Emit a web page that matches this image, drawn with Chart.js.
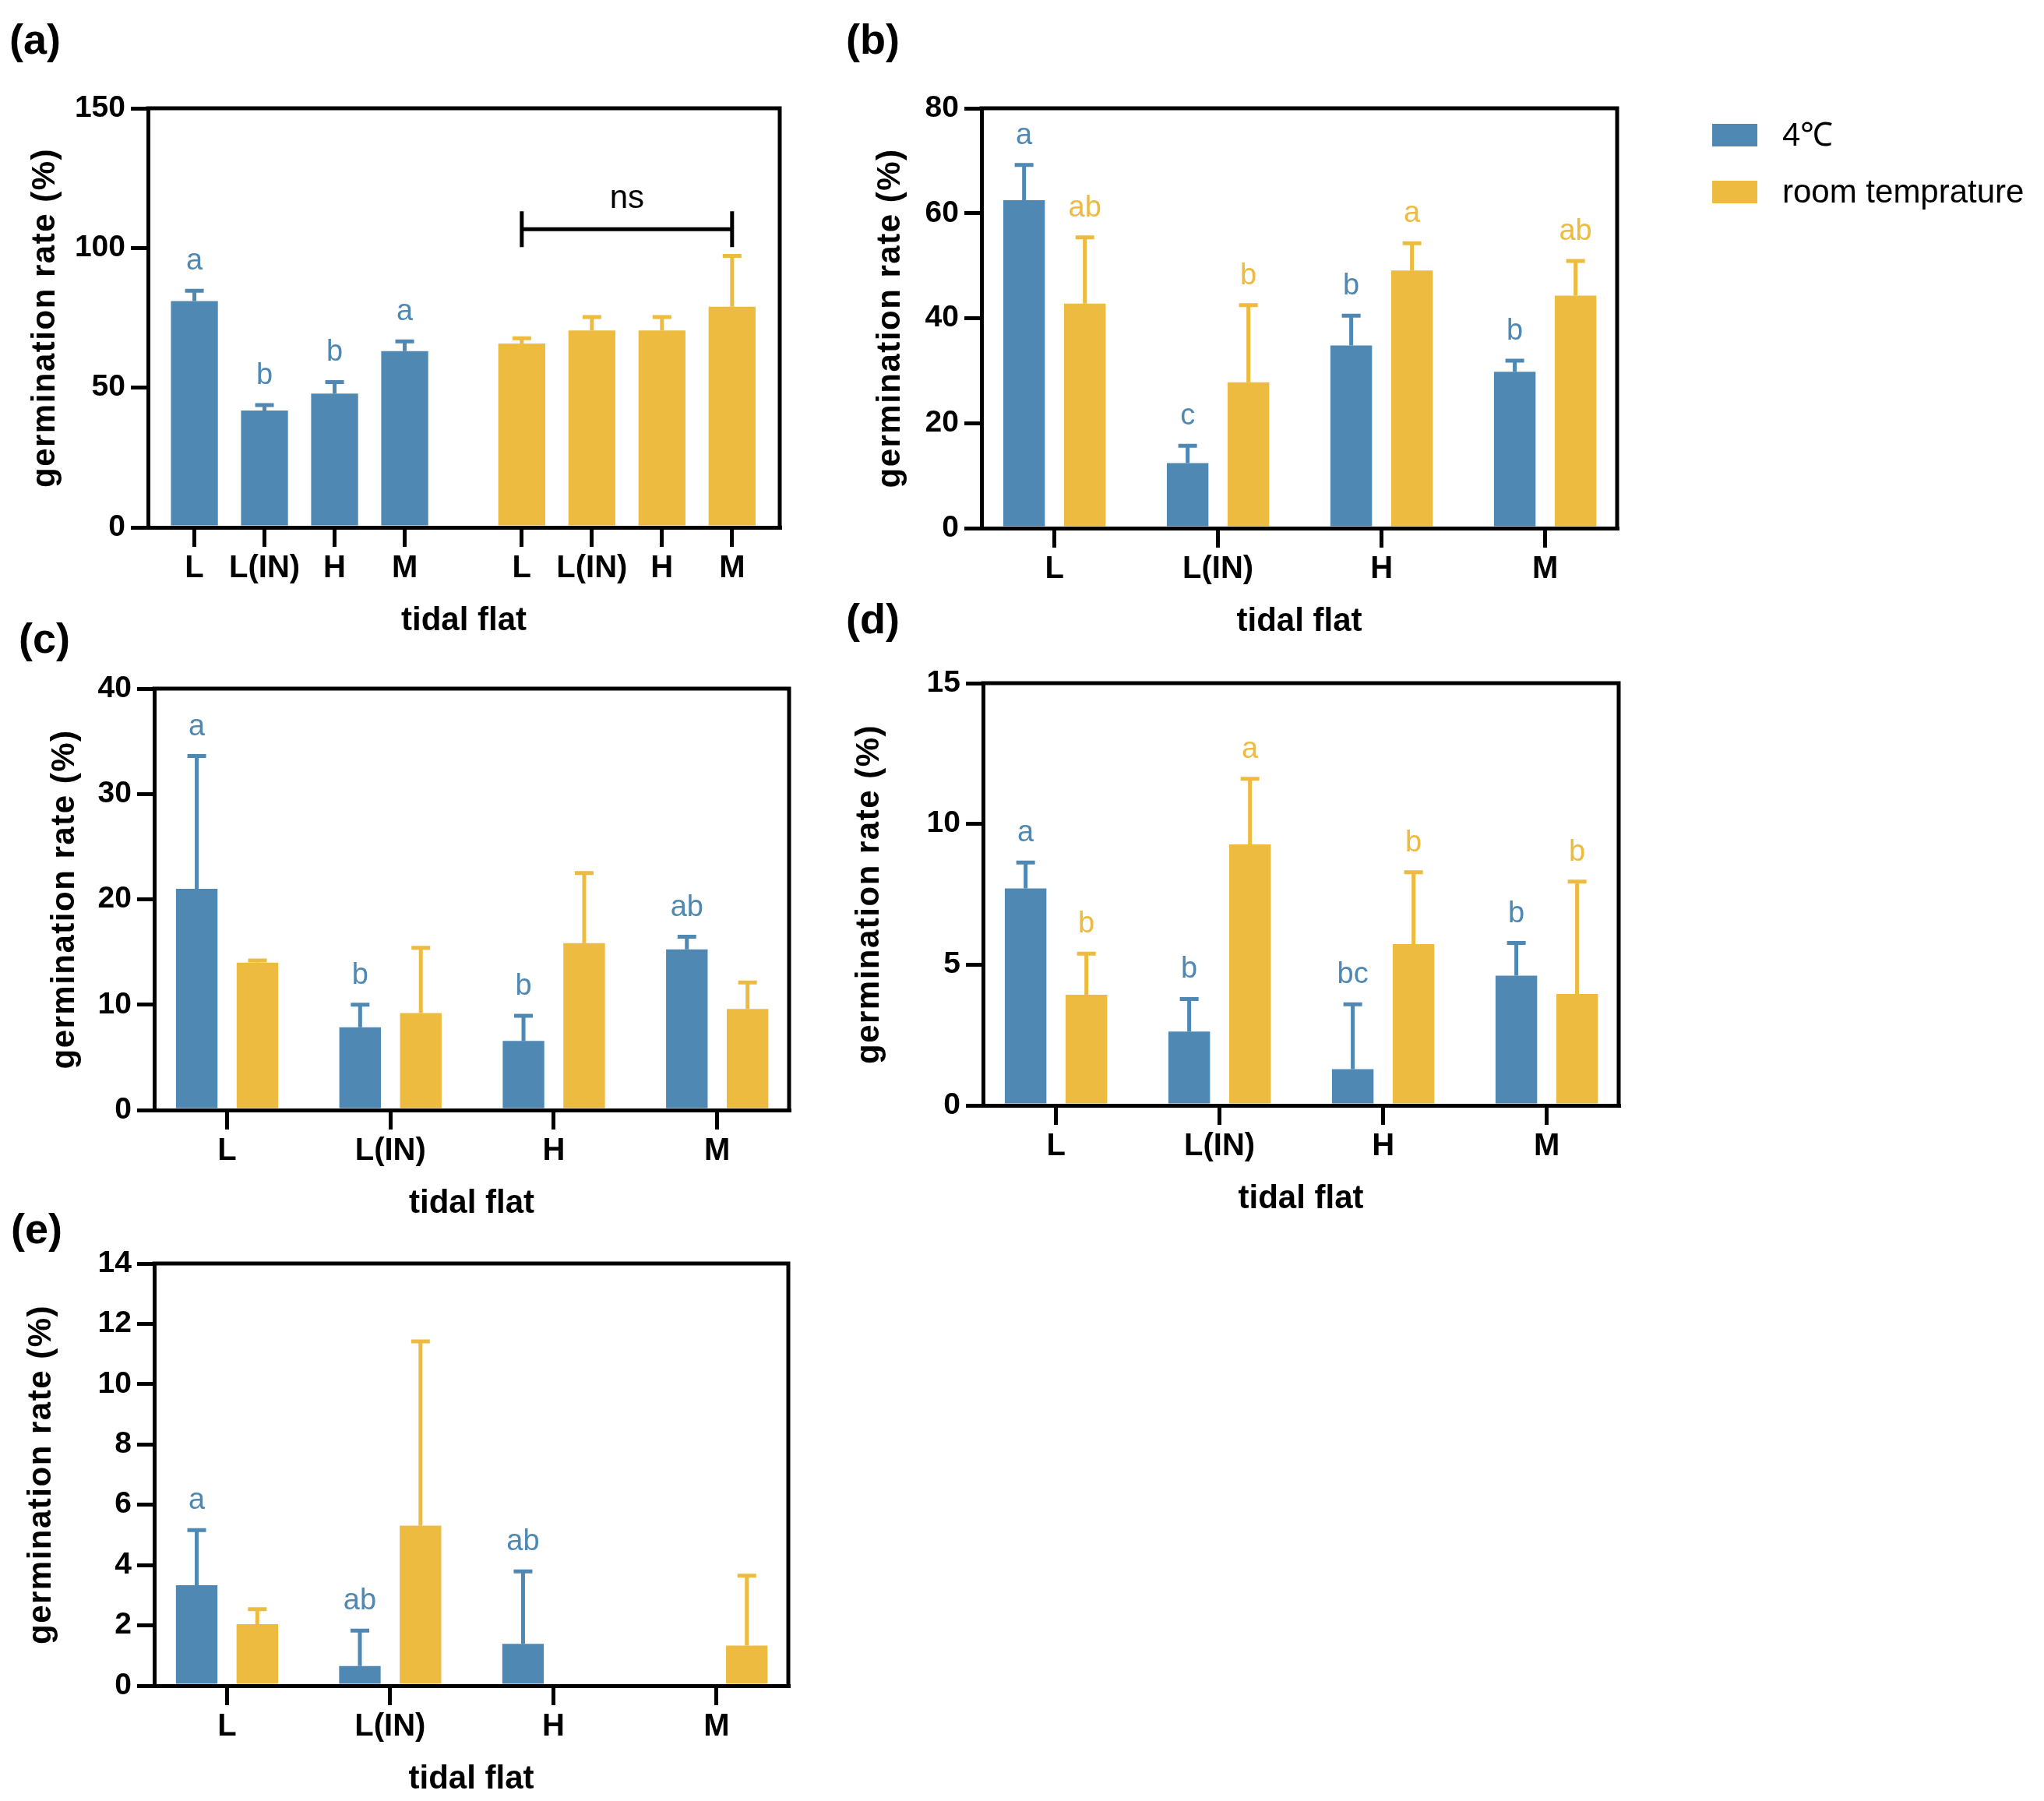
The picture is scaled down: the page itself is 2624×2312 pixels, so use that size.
<!DOCTYPE html>
<html>
<head>
<meta charset="utf-8">
<script src="https://cdn.jsdelivr.net/npm/chart.js@4.4.1/dist/chart.umd.min.js"></script>
<style>
  html, body { margin: 0; padding: 0; background: #fff; }
  #page { position: relative; width: 2624px; height: 2312px; overflow: hidden; background: #fff; }
  canvas { position: absolute; }
  .tag { position: absolute; font: bold 54px "Liberation Sans", Arial, sans-serif; line-height: 54px; color: #000; }
</style>
</head>
<body>
<div id="page">
  <canvas id="ca"></canvas>
  <canvas id="cb"></canvas>
  <canvas id="cc"></canvas>
  <canvas id="cd"></canvas>
  <canvas id="ce"></canvas>
  <div class="tag" style="left:12px;top:23px">(a)</div>
  <div class="tag" style="left:1086px;top:23px">(b)</div>
  <div class="tag" style="left:24px;top:792px">(c)</div>
  <div class="tag" style="left:1086px;top:767px">(d)</div>
  <div class="tag" style="left:14px;top:1550px">(e)</div>
</div>
<script>
const SITES = ['L', 'L(IN)', 'H', 'M'];
const SERIES = ['4℃', 'room temprature'];

// (a) all sites, two temperature groups side by side
const aCold = [81.0, 41.8, 47.9, 63.1];
const aColdSd = [3.7, 2.0, 4.1, 3.5];
const aColdLetters = ['a', 'b', 'b', 'a'];
const aRoom = [65.8, 70.5, 70.5, 79.0];
const aRoomSd = [1.9, 4.8, 4.8, 18.2];
const aRoomLetters = ['', '', '', ''];
const aTicks = [0, 50, 100, 150];
const aNsLevel = 106.7;

// (b)
const bCold = [62.5, 12.4, 34.8, 29.8];
const bColdSd = [6.7, 3.3, 5.7, 2.1];
const bColdLetters = ['a', 'c', 'b', 'b'];
const bRoom = [42.8, 27.8, 49.1, 44.3];
const bRoomSd = [12.6, 14.7, 5.2, 6.6];
const bRoomLetters = ['ab', 'b', 'a', 'ab'];
const bTicks = [0, 20, 40, 60, 80];

// (c)
const cCold = [21.0, 7.85, 6.57, 15.25];
const cColdSd = [12.6, 2.15, 2.37, 1.2];
const cColdLetters = ['a', 'b', 'b', 'ab'];
const cRoom = [14.0, 9.2, 15.85, 9.6];
const cRoomSd = [0.2, 6.2, 6.65, 2.5];
const cRoomLetters = ['', '', '', ''];
const cTicks = [0, 10, 20, 30, 40];

// (d)
const dCold = [7.71, 2.62, 1.29, 4.61];
const dColdSd = [0.92, 1.16, 2.30, 1.16];
const dColdLetters = ['a', 'b', 'bc', 'b'];
const dRoom = [3.93, 9.27, 5.73, 3.96];
const dRoomSd = [1.46, 2.33, 2.55, 3.99];
const dRoomLetters = ['b', 'a', 'b', 'b'];
const dTicks = [0, 5, 10, 15];

// (e)
const eCold = [3.33, 0.65, 1.39, 0];
const eColdSd = [1.83, 1.18, 2.40, 0];
const eColdLetters = ['a', 'ab', 'ab', ''];
const eRoom = [2.04, 5.31, 0, 1.33];
const eRoomSd = [0.50, 6.11, 0, 2.32];
const eRoomLetters = ['', '', '', ''];
const eTicks = [0, 2, 4, 6, 8, 10, 12, 14];

const BLUE = '#4f89b3';
const YELLOW = '#edbb3f';
const FONT = '"Liberation Sans", Arial, Helvetica, sans-serif';
Chart.defaults.font.family = FONT;

// error bars, letters, frame, axis titles, ns bracket, legend
const panelDecor = {
  id: 'panelDecor',
  afterDatasetsDraw(chart) {
    const ctx = chart.ctx;
    const ys = chart.scales.y;
    ctx.save();
    chart.data.datasets.forEach((ds, di) => {
      const meta = chart.getDatasetMeta(di);
      meta.data.forEach((bar, i) => {
        const v = ds.data[i].y;
        const sd = ds.sd[i];
        const top = ys.getPixelForValue(v + sd);
        ctx.strokeStyle = ds.backgroundColor;
        ctx.lineWidth = 5;
        if (sd > 0) {
          ctx.beginPath();
          ctx.moveTo(bar.x, bar.y);
          ctx.lineTo(bar.x, top);
          ctx.moveTo(bar.x - 12, top);
          ctx.lineTo(bar.x + 12, top);
          ctx.stroke();
        }
        if (ds.letters[i]) {
          ctx.fillStyle = ds.backgroundColor;
          ctx.font = '38px ' + FONT;
          ctx.textAlign = 'center';
          ctx.textBaseline = 'alphabetic';
          ctx.fillText(ds.letters[i], bar.x, top - 27);
        }
      });
    });
    ctx.restore();
  },
  afterDraw(chart, args, opts) {
    const { ctx, chartArea: a } = chart;
    ctx.save();
    ctx.strokeStyle = '#000';
    ctx.lineWidth = 5;
    ctx.lineCap = 'square';
    ctx.beginPath();
    ctx.moveTo(a.left, a.top);
    ctx.lineTo(a.right, a.top);
    ctx.lineTo(a.right, a.bottom);
    ctx.stroke();

    // y title
    ctx.save();
    ctx.translate(a.left - opts.titleOffset + 11, (a.top + a.bottom) / 2);
    ctx.rotate(-Math.PI / 2);
    ctx.font = 'bold 42px ' + FONT;
    ctx.letterSpacing = '1.5px';
    ctx.fillStyle = '#000';
    ctx.textAlign = 'center';
    ctx.textBaseline = 'alphabetic';
    ctx.fillText('germination rate (%)', 0, 0);
    ctx.restore();

    // x title
    ctx.font = 'bold 42px ' + FONT;
    ctx.fillStyle = '#000';
    ctx.textAlign = 'center';
    ctx.textBaseline = 'alphabetic';
    ctx.fillText('tidal flat', (a.left + a.right) / 2, a.bottom + 132);

    if (opts.ns) {
      const xs = chart.scales.x;
      const x1 = xs.getPixelForValue(opts.ns.from);
      const x2 = xs.getPixelForValue(opts.ns.to);
      const yy = chart.scales.y.getPixelForValue(opts.ns.level);
      ctx.lineCap = 'butt';
      ctx.beginPath();
      ctx.moveTo(x1, yy); ctx.lineTo(x2, yy);
      ctx.moveTo(x1, yy - 23); ctx.lineTo(x1, yy + 23);
      ctx.moveTo(x2, yy - 23); ctx.lineTo(x2, yy + 23);
      ctx.stroke();
      ctx.font = '42px ' + FONT;
      ctx.fillText('ns', (x1 + x2) / 2, yy - 27);
    }

    if (opts.legend) {
      chart.data.datasets.forEach((ds, k) => {
        const top = a.top + 20 + k * 73;
        ctx.fillStyle = ds.backgroundColor;
        ctx.fillRect(a.right + 122, top, 58, 29);
        ctx.fillStyle = '#000';
        ctx.font = '42px ' + FONT;
        ctx.textAlign = 'left';
        ctx.textBaseline = 'middle';
        ctx.fillText(ds.label, a.right + 212, top + 16);
      });
    }
    ctx.restore();
  }
};

function pts(values, pos) {
  return values.map((v, i) => ({ x: pos[i], y: v }));
}

function makeChart(id, box, padRight, spec) {
  const [L, T, R, B] = box;
  const cv = document.getElementById(id);
  const w = R - L + 190 + padRight;
  const h = B - T + 40 + 150;
  cv.width = w; cv.height = h;
  cv.style.left = (L - 190) + 'px';
  cv.style.top = (T - 40) + 'px';
  cv.style.width = w + 'px';
  cv.style.height = h + 'px';
  const yTicks = spec.yTicks;
  return new Chart(cv.getContext('2d'), {
    type: 'bar',
    data: { datasets: spec.datasets },
    options: {
      responsive: false,
      animation: false,
      devicePixelRatio: 1,
      events: [],
      layout: { padding: { left: 0, top: 40, right: padRight, bottom: 0 } },
      plugins: {
        legend: { display: false },
        tooltip: { enabled: false },
        panelDecor: { titleOffset: spec.titleOffset, ns: spec.ns || null, legend: !!spec.legend }
      },
      scales: {
        x: {
          type: 'linear', min: spec.xMin, max: spec.xMax, bounds: 'data', offset: false, z: 1,
          afterBuildTicks: s => { s.ticks = spec.tickPos.map(v => ({ value: v })); },
          afterFit: s => { s.height = 150; },
          grid: { offset: false, drawOnChartArea: false, drawTicks: true, tickLength: 25, lineWidth: 5, color: '#000' },
          border: { display: true, width: 5, color: '#000' },
          ticks: {
            autoSkip: false, maxRotation: 0, minRotation: 0, padding: 4, color: '#000',
            font: { size: 40, weight: 'bold' },
            callback: (v, i) => spec.tickLabels[i]
          }
        },
        y: {
          type: 'linear', min: 0, max: yTicks[yTicks.length - 1], bounds: 'data',
          afterBuildTicks: s => { s.ticks = yTicks.map(v => ({ value: v })); },
          afterFit: s => { s.width = 190; },
          grid: { drawOnChartArea: false, drawTicks: true, tickLength: 22, lineWidth: 5, color: '#000' },
          border: { display: true, width: 5, color: '#000' },
          ticks: { padding: 7, color: '#000', font: { size: 39, weight: 'bold' }, callback: v => String(v) }
        }
      }
    },
    plugins: [panelDecor]
  });
}

function pairSets(cold, coldSd, coldLet, room, roomSd, roomLet, pos) {
  return [
    { label: SERIES[0], data: pts(cold, pos), sd: coldSd, letters: coldLet, backgroundColor: BLUE,
      borderWidth: 0, grouped: true, categoryPercentage: 0.743, barPercentage: 0.685 },
    { label: SERIES[1], data: pts(room, pos), sd: roomSd, letters: roomLet, backgroundColor: YELLOW,
      borderWidth: 0, grouped: true, categoryPercentage: 0.743, barPercentage: 0.685 }
  ];
}

// panel (a): second group shifted right with a gap
const groupShift = 4.67;
const aPosCold = SITES.map((s, i) => i);
const aPosRoom = SITES.map((s, i) => i + groupShift);

makeChart('ca', [190, 139, 1001, 677], 30, {
  datasets: [
    { label: SERIES[0], data: pts(aCold, aPosCold), sd: aColdSd, letters: aColdLetters, backgroundColor: BLUE,
      borderWidth: 0, grouped: false, categoryPercentage: 1, barPercentage: 0.67 },
    { label: SERIES[1], data: pts(aRoom, aPosRoom), sd: aRoomSd, letters: aRoomLetters, backgroundColor: YELLOW,
      borderWidth: 0, grouped: false, categoryPercentage: 1, barPercentage: 0.67 }
  ],
  xMin: -0.662, xMax: 8.35,
  tickPos: aPosCold.concat(aPosRoom),
  tickLabels: SITES.concat(SITES),
  yTicks: aTicks,
  titleOffset: 131,
  ns: { from: aPosRoom[0], to: aPosRoom[3], level: aNsLevel }
});

const pos4 = SITES.map((s, i) => i);
const common = { xMin: -0.446, xMax: 3.44, tickPos: pos4, tickLabels: SITES };

makeChart('cb', [1260, 139, 2076, 678], 548, Object.assign({}, common, {
  datasets: pairSets(bCold, bColdSd, bColdLetters, bRoom, bRoomSd, bRoomLetters, pos4),
  yTicks: bTicks, titleOffset: 116, legend: true
}));

makeChart('cc', [198, 884, 1013, 1425], 30, Object.assign({}, common, {
  datasets: pairSets(cCold, cColdSd, cColdLetters, cRoom, cRoomSd, cRoomLetters, pos4),
  yTicks: cTicks, titleOffset: 114
}));

makeChart('cd', [1262, 877, 2078, 1419], 30, Object.assign({}, common, {
  datasets: pairSets(dCold, dColdSd, dColdLetters, dRoom, dRoomSd, dRoomLetters, pos4),
  yTicks: dTicks, titleOffset: 145
}));

makeChart('ce', [198, 1622, 1012, 2164], 30, Object.assign({}, common, {
  datasets: pairSets(eCold, eColdSd, eColdLetters, eRoom, eRoomSd, eRoomLetters, pos4),
  yTicks: eTicks, titleOffset: 144
}));
</script>
</body>
</html>
